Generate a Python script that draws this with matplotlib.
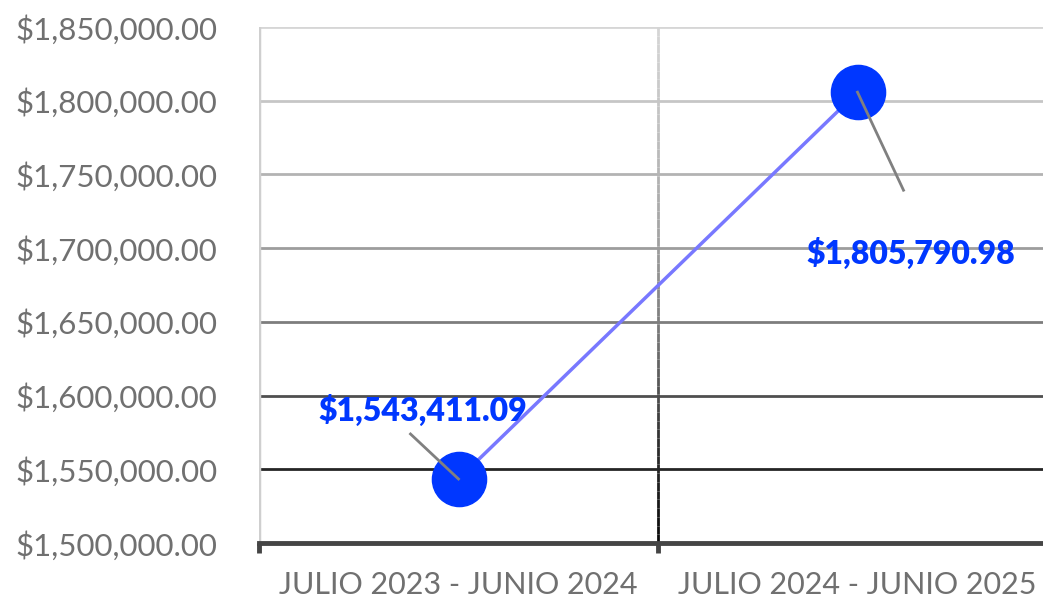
import matplotlib
matplotlib.use("Agg")
import matplotlib.pyplot as plt
from matplotlib.collections import LineCollection
from matplotlib.colors import LinearSegmentedColormap
import numpy as np

categories = ["JULIO 2023 - JUNIO 2024", "JULIO 2024 - JUNIO 2025"]
values = [1543411.09, 1805790.98]
labels = ["$1,543,411.09", "$1,805,790.98"]
y_ticks = [1500000, 1550000, 1600000, 1650000, 1700000, 1750000, 1800000, 1850000]

plt.rcParams['font.family'] = ['Lato', 'DejaVu Sans']

W, H = 1043, 599
fig = plt.figure(figsize=(W/100, H/100), dpi=100)
left, right, top, bottom = 259, 1043, 27, 543
ax = fig.add_axes([left/W, 1-bottom/H, (right-left)/W, (bottom-top)/H])
ax.set_xlim(-0.5, -0.5 + (right-left)/399)
ax.set_ylim(1500000, 1850000)

cmap = LinearSegmentedColormap.from_list("g", ["#0a0a0a", "#303030", "#777777", "#a3a3a3", "#c0c0c0", "#d6d6d6"])
def col(v):
    return cmap((v-1500000)/350000)

# horizontal gridlines with gradient colors
for t in y_ticks[1:]:
    ax.axhline(t, color=col(t), lw=2, zorder=1)

# vertical lines
ax.axvline(-0.5, color="#cfcfcf", lw=2.5, zorder=1)
ys = np.linspace(1500000, 1850000, 60)
segs = [[(0.5, ys[i]), (0.5, ys[i+1])] for i in range(len(ys)-1)]
lc = LineCollection(segs, colors=[col((ys[i]+ys[i+1])/2) for i in range(len(ys)-1)], lw=2, zorder=1)
ax.add_collection(lc)

for s in ["top", "right", "left"]:
    ax.spines[s].set_visible(False)
ax.spines["bottom"].set_color("#454545")
ax.spines["bottom"].set_linewidth(3.5)
ax.spines["bottom"].set_zorder(3)

x = np.arange(len(categories))
ax.plot(x, values, color="#7878ff", lw=2.5, zorder=4)
ax.plot(x, values, "o", color="#0037ff", ms=39, zorder=5)

# leader lines and labels
ax.annotate(labels[0], xy=(x[0], values[0]), xytext=(-36, 69), textcoords="offset pixels",
            ha="center", va="center", fontsize=23, fontweight="heavy", color="#0037ff", zorder=6)
ax.plot([x[0], x[0]-48/399], [values[0], values[0] + 45*50000/73.7], color="#808080", lw=2, zorder=6)
ax.annotate(labels[1], xy=(x[1], values[1]), xytext=(53, -161), textcoords="offset pixels",
            ha="center", va="center", fontsize=23, fontweight="heavy", color="#0037ff", zorder=6)
ax.plot([x[1], x[1]+46/399], [values[1], values[1] - 98*50000/73.7], color="#808080", lw=2, zorder=6)

ax.set_yticks(y_ticks)
ax.set_yticklabels([f"${v:,.2f}" for v in y_ticks])
ax.set_xticks([-0.5, 0.5])
ax.set_xticks(x, minor=True)
ax.set_xticklabels([])
ax.set_xticklabels(categories, minor=True)
ax.tick_params(axis="y", length=0, pad=30, labelsize=22.5, labelcolor="#707070")
ax.tick_params(axis="x", which="major", length=7, width=3.5, color="#454545")
ax.tick_params(axis="x", which="minor", length=0, pad=20, labelsize=22, labelcolor="#707070")

fig.savefig("out.png", dpi=100)
